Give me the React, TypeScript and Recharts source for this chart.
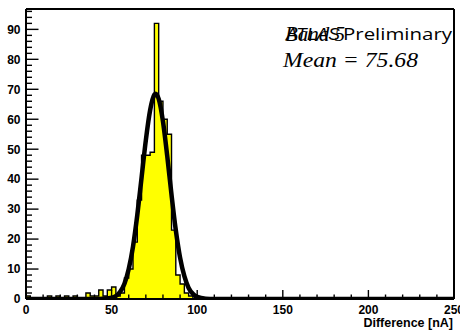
import { ComposedChart, Area, Line, XAxis, YAxis, ReferenceLine } from 'recharts';

// Histogram: 2.5 nA bins starting at 0. Counts for bins 0..39, empty after that.
const binWidth = 2.5;
const binCounts = [
  1, 0, 0, 0, 0, 1, 0, 1, 0, 1,
  0, 1, 0, 0, 2, 1, 1, 3, 1, 3,
  4, 1, 2, 7, 10, 19, 33, 48, 48, 49,
  92, 66, 60, 55, 23, 8, 5, 2, 1, 0,
];
const nBins = 100;

// Gaussian fit curve, sampled
const fitX = [0, 40, 45, 50, 52.5, 55, 57.5, 60, 62.5, 65, 67.5, 70, 72.5, 75, 75.7, 77.5, 80, 82.5, 85, 87.5, 90, 92.5, 95, 97.5, 100, 105, 110, 250];
const fitY = [0, 0, 0.1, 0.4, 1, 2.4, 5.1, 10, 17.5, 28, 40.5, 53, 63, 68.2, 68.5, 66.8, 59.3, 47.7, 34.8, 23, 13.8, 7.6, 3.7, 1.7, 0.7, 0.1, 0, 0];

const xTicks = [0, 10, 20, 30, 40, 50, 60, 70, 80, 90, 100, 110, 120, 130, 140, 150, 160, 170, 180, 190, 200, 210, 220, 230, 240, 250];
const yTicks = [0, 2, 4, 6, 8, 10, 12, 14, 16, 18, 20, 22, 24, 26, 28, 30, 32, 34, 36, 38, 40, 42, 44, 46, 48, 50, 52, 54, 56, 58, 60, 62, 64, 66, 68, 70, 72, 74, 76, 78, 80, 82, 84, 86, 88, 90, 92, 94, 96];
const yMax = 96.8;

const countAt = (x: number) => {
  const i = Math.floor(x / binWidth);
  return i < binCounts.length ? binCounts[i] : 0;
};

// merge bin edges and fit samples into one x-sorted table
const rows: { x: number; hist: number; fit?: number }[] = [];
for (let i = 0; i <= nBins; i++) {
  const x = i * binWidth;
  rows.push({ x, hist: i < nBins ? countAt(x) : 0 });
}
fitX.forEach((x, i) => {
  const row = rows.find((r) => Math.abs(r.x - x) < 1e-6);
  if (row) row.fit = fitY[i];
  else rows.push({ x, hist: countAt(x), fit: fitY[i] });
});
rows.sort((a, b) => a.x - b.x);

const FONT = '"Liberation Sans", Arial, sans-serif';

const XTick = (props: any) => {
  const { x, y, payload } = props;
  const major = payload.value % 50 === 0;
  return (
    <g>
      <line x1={x} x2={x} y1={y} y2={y - (major ? 9 : 4.5)} stroke="#000" strokeWidth={1.4} />
      {major && (
        <text x={x} y={y + 15} textAnchor="middle" fontFamily={FONT} fontWeight="bold" fontSize={12} fill="#000">
          {payload.value}
        </text>
      )}
    </g>
  );
};

const YTick = (props: any) => {
  const { x, y, payload } = props;
  const major = payload.value % 10 === 0;
  return (
    <g>
      <line x1={x} x2={x + (major ? 12.5 : 6)} y1={y} y2={y} stroke="#000" strokeWidth={1.4} />
      {major && (
        <text x={x - 5.5} y={y + 4.3} textAnchor="end" fontFamily={FONT} fontWeight="bold" fontSize={12} fill="#000">
          {payload.value}
        </text>
      )}
    </g>
  );
};

export default function App() {
  return (
    <div style={{ position: 'absolute', left: 0, top: 0, width: 460, height: 330, background: '#fff' }}>
      <ComposedChart width={460} height={330} data={rows} margin={{ top: 9, right: 6, bottom: 0, left: 0 }}>
        <XAxis
          dataKey="x"
          type="number"
          domain={[0, 250]}
          ticks={xTicks}
          interval={0}
          height={31}
          tickSize={0}
          tickMargin={0}
          tickLine={false}
          axisLine={{ stroke: '#000', strokeWidth: 2 }}
          tick={<XTick />}
          allowDataOverflow
        />
        <YAxis
          type="number"
          domain={[0, yMax]}
          ticks={yTicks}
          interval={0}
          width={26}
          tickSize={0}
          tickMargin={0}
          tickLine={false}
          axisLine={{ stroke: '#000', strokeWidth: 2 }}
          tick={<YTick />}
          allowDataOverflow
        />
        <Area
          dataKey="hist"
          type="stepAfter"
          fill="#ffff00"
          fillOpacity={1}
          stroke="#000"
          strokeWidth={1.4}
          isAnimationActive={false}
          dot={false}
          activeDot={false}
        />
        <Line
          dataKey="fit"
          type="monotone"
          stroke="#000"
          strokeWidth={4.5}
          connectNulls
          dot={false}
          activeDot={false}
          isAnimationActive={false}
        />
        <ReferenceLine y={yMax} stroke="#000" strokeWidth={2} />
        <ReferenceLine x={250} stroke="#000" strokeWidth={2} />
      </ComposedChart>
      <svg width={460} height={330} style={{ position: 'absolute', left: 0, top: 0, pointerEvents: 'none' }}>
        <text x={286} y={40} fontFamily={FONT} fontStyle="italic" fontSize={16} textLength={54} lengthAdjust="spacingAndGlyphs" fill="#000">
          ATLAS
        </text>
        <text x={343} y={40} fontFamily='"Open Sans", sans-serif' fontSize={16} textLength={109} lengthAdjust="spacingAndGlyphs" fill="#000">
          Preliminary
        </text>
        <text x={285} y={41} fontFamily='"Liberation Serif", serif' fontStyle="italic" fontSize={21} fill="#000">
          Band 5
        </text>
        <text x={283} y={67} fontFamily='"Liberation Serif", serif' fontStyle="italic" fontSize={21} textLength={135} lengthAdjust="spacingAndGlyphs" fill="#000">
          Mean = 75.68
        </text>
        <text x={453} y={327} textAnchor="end" fontFamily={FONT} fontWeight="bold" fontSize={12.5} fill="#000">
          Difference [nA]
        </text>
      </svg>
    </div>
  );
}
